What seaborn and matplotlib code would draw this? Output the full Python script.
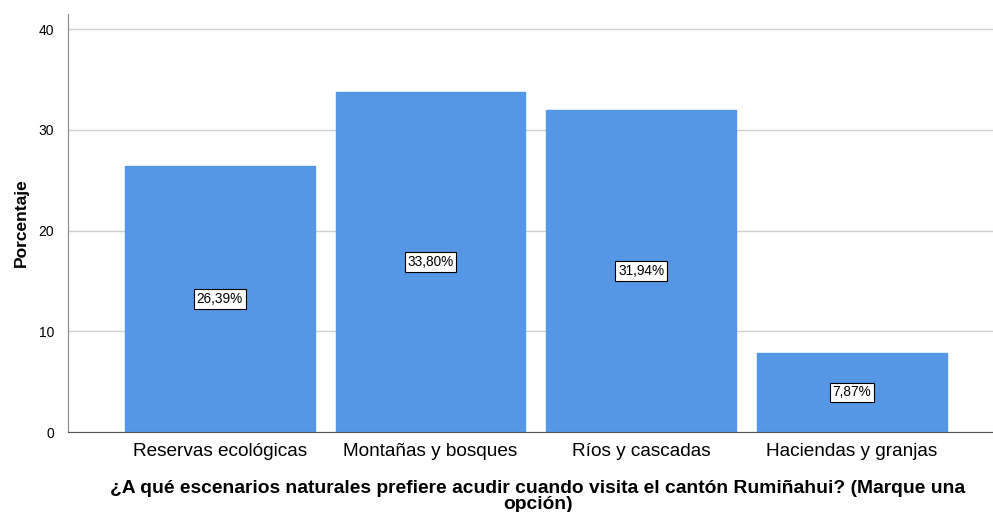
import numpy as np
import pandas as pd
import matplotlib
matplotlib.use("Agg")
import matplotlib.pyplot as plt
import seaborn as sns

# ----------------------------
# Data
# ----------------------------
categorias = ["Reservas ecológicas", "Montañas y bosques", "Ríos y cascadas", "Haciendas y granjas"]
porcentajes = [26.39, 33.80, 31.94, 7.87]
etiquetas = ["26,39%", "33,80%", "31,94%", "7,87%"]

df = pd.DataFrame({"Escenario": categorias, "Porcentaje": porcentajes})

sns.set_style("white")
plt.rcParams["font.family"] = ["Liberation Sans", "DejaVu Sans"]
plt.rcParams["text.color"] = "black"
plt.rcParams["axes.labelcolor"] = "black"
plt.rcParams["xtick.color"] = "black"
plt.rcParams["ytick.color"] = "black"

fig = plt.figure(figsize=(9.93, 5.12), dpi=100)
ax = fig.add_axes([68 / 993, 80 / 512, 925 / 993, 418 / 512])

sns.barplot(
    data=df,
    x="Escenario",
    y="Porcentaje",
    color="#5596E6",
    saturation=1,
    width=0.9,
    edgecolor="#5596E6",
    ax=ax
)

# value labels in middle of bars
for i, p in enumerate(ax.patches):
    h = p.get_height()
    ax.text(
        p.get_x() + p.get_width() / 2, h / 2, etiquetas[i],
        ha="center", va="center", fontsize=9.8, color="black",
        bbox=dict(boxstyle="square,pad=0.2", fc="white", ec="black", lw=0.8)
    )

ax.set_xlim(-0.72, 3.67)
ax.set_ylim(0, 41.5)
ax.set_yticks([0, 10, 20, 30, 40])
ax.yaxis.grid(True, color="#d0d0d0", lw=1)
ax.set_axisbelow(True)

for s in ["top", "right"]:
    ax.spines[s].set_visible(False)
ax.spines["left"].set_color("#888888")
ax.spines["bottom"].set_color("#555555")
ax.tick_params(axis="both", length=0)
ax.tick_params(axis="y", labelsize=10, pad=10)
ax.tick_params(axis="x", labelsize=13.7, pad=8)

ax.set_ylabel("Porcentaje", fontsize=12.5, fontweight="bold", labelpad=7)
ax.set_xlabel(
    "¿A qué escenarios naturales prefiere acudir cuando visita el cantón Rumiñahui? (Marque una\nopción)",
    fontsize=13.9, fontweight="bold", linespacing=0.92
)
ax.xaxis.set_label_coords(0.508, -0.114)

fig.savefig("out.png", dpi=100)
